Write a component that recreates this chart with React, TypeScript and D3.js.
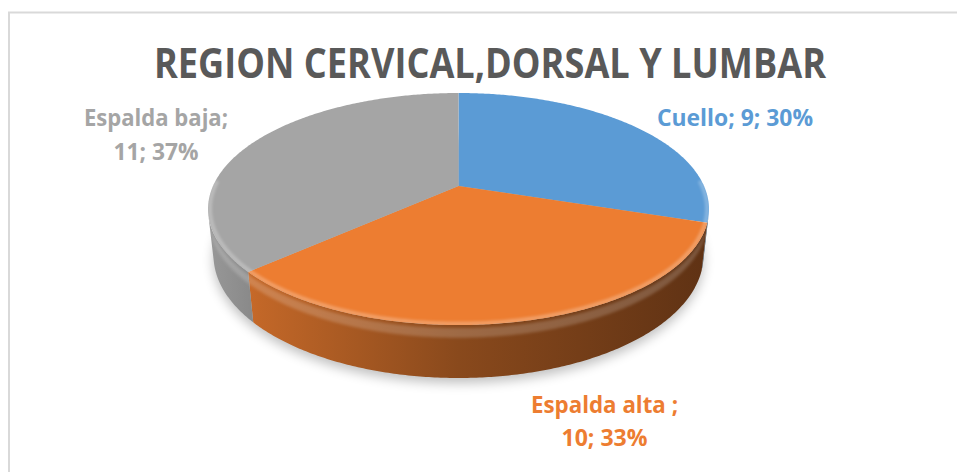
import React from "react";
import * as d3 from "d3";

// ---- data ----
const categories = ["Cuello", "Espalda alta ", "Espalda baja"];
const values = [9, 10, 11];
const sliceColors = ["#5B9BD5", "#ED7D31", "#A5A5A5"];
const titleText = "REGION CERVICAL,DORSAL Y LUMBAR";

// ---- layout ----
const W = 957;
const H = 472;
const CX = 458.5;
const CY = 186;
const SCALE = 1102.5;
const DIST = 4.491;
const ALPHA = (27 * Math.PI) / 180;
const THICK = 0.213;

// label layout: center x, first baseline, line height, width per line
const labelLayout = [
  { x: 735, y: 126, lh: 34, widths: [156] },
  { x: 604.5, y: 413, lh: 33, widths: [147, 86] },
  { x: 156, y: 126, lh: 34, widths: [144, 85] },
];

function project(theta: number, y: number, r = 1): [number, number] {
  const x = r * Math.sin(theta);
  const z = -r * Math.cos(theta);
  const sa = Math.sin(ALPHA);
  const ca = Math.cos(ALPHA);
  const depth = DIST - y * sa - z * ca;
  const Y = y * ca - z * sa;
  return [CX + (SCALE * x) / depth, CY - (SCALE * Y) / depth];
}

function arcPts(t0: number, t1: number, y: number, r = 1): [number, number][] {
  const n = Math.max(2, Math.ceil(Math.abs(t1 - t0) / 0.01));
  const pts: [number, number][] = [];
  for (let i = 0; i <= n; i++) pts.push(project(t0 + ((t1 - t0) * i) / n, y, r));
  return pts;
}

const line = d3.line<[number, number]>().x((d) => d[0]).y((d) => d[1]);

export default function App() {
  const total = d3.sum(values);
  const arcs = d3.pie<number>().sort(null).startAngle(0).endAngle(2 * Math.PI)(values);

  const vis0 = Math.acos(-1 / (DIST * Math.cos(ALPHA)));
  const vis1 = 2 * Math.PI - vis0;
  const xLeft = project(vis1, 0)[0];
  const xRight = project(vis0, 0)[0];

  const shadePts = [0, 0.1, 0.5, 1];
  const shadeF = [0.92, 0.82, 0.58, 0.4];

  const shade = (c: string, f: number) => {
    const r = d3.rgb(c);
    return d3.rgb(r.r * f, r.g * f, r.b * f).formatHex();
  };

  const bottomEllipse = line(arcPts(0, 2 * Math.PI, -THICK)) + "Z";

  return (
    <svg
      width={W}
      height={H}
      style={{ position: "absolute", left: 0, top: 0, background: "#fff" }}
      fontFamily="'Open Sans', sans-serif"
    >
      <defs>
        <filter id="shadowBlur" x="-20%" y="-20%" width="140%" height="160%">
          <feGaussianBlur stdDeviation="6" />
        </filter>
        <filter id="rimBlur" x="-10%" y="-10%" width="120%" height="120%">
          <feGaussianBlur stdDeviation="1.4" />
        </filter>
        {sliceColors.map((c, i) => (
          <linearGradient
            key={i}
            id={`side-${i}`}
            gradientUnits="userSpaceOnUse"
            x1={xLeft}
            x2={xRight}
            y1={0}
            y2={0}
          >
            {shadePts.map((o, k) => (
              <stop key={k} offset={o} stopColor={shade(c, shadeF[k])} />
            ))}
          </linearGradient>
        ))}
        <clipPath id="topClip">
          <path d={line(arcPts(0, 2 * Math.PI, 0)) + "Z"} />
        </clipPath>
      </defs>
      <rect x={0} y={0} width={W} height={H} fill="#fff" />
      <rect x={9} y={12.5} width={W + 40} height={H + 40} fill="#fff" stroke="#D9D9D9" strokeWidth={2} />

      <text
        x={490}
        y={78}
        textAnchor="middle"
        fontSize={42}
        fontWeight="bold"
        fill="#595959"
        textLength={672}
        lengthAdjust="spacingAndGlyphs"
      >
        {titleText}
      </text>

      {/* shadow */}
      <path d={bottomEllipse} fill="#000" opacity={0.25} filter="url(#shadowBlur)" transform="translate(0,5)" />

      {/* sides */}
      {arcs.map((a, i) => {
        const t0 = Math.max(a.startAngle, vis0);
        const t1 = Math.min(a.endAngle, vis1);
        if (t1 <= t0) return null;
        const top = arcPts(t0, t1, 0);
        const bot = arcPts(t0, t1, -THICK).reverse();
        return <path key={i} d={line([...top, ...bot]) + "Z"} fill={`url(#side-${i})`} />;
      })}

      {/* side upper highlight */}
      <path
        d={line([...arcPts(vis0, vis1, -0.012), ...arcPts(vis0, vis1, -0.05).reverse()]) + "Z"}
        fill="#fff"
        opacity={0.18}
        filter="url(#rimBlur)"
      />

      {/* top faces */}
      {arcs.map((a, i) => (
        <path
          key={i}
          d={line([project(0, 0, 0), ...arcPts(a.startAngle, a.endAngle, 0)]) + "Z"}
          fill={sliceColors[i]}
        />
      ))}

      {/* top rim bevel highlight */}
      <g clipPath="url(#topClip)">
        <path
          d={line(arcPts(vis0 - 0.3, vis1 + 0.3, 0, 0.993)) ?? ""}
          fill="none"
          stroke="#fff"
          strokeWidth={4}
          opacity={0.28}
          filter="url(#rimBlur)"
        />
      </g>

      {/* labels */}
      {arcs.map((a, i) => {
        const pct = Math.round((values[i] / total) * 100);
        const L = labelLayout[i];
        const lines =
          L.widths.length === 1
            ? [`${categories[i]}; ${values[i]}; ${pct}%`]
            : [`${categories[i]};`, `${values[i]}; ${pct}%`];
        return (
          <g key={i}>
            {lines.map((t, k) => (
              <text
                key={k}
                x={L.x}
                y={L.y + k * L.lh}
                textAnchor="middle"
                fontSize={24}
                fontWeight="bold"
                fill={sliceColors[i]}
                textLength={L.widths[k]}
                lengthAdjust="spacingAndGlyphs"
              >
                {t}
              </text>
            ))}
          </g>
        );
      })}
    </svg>
  );
}
